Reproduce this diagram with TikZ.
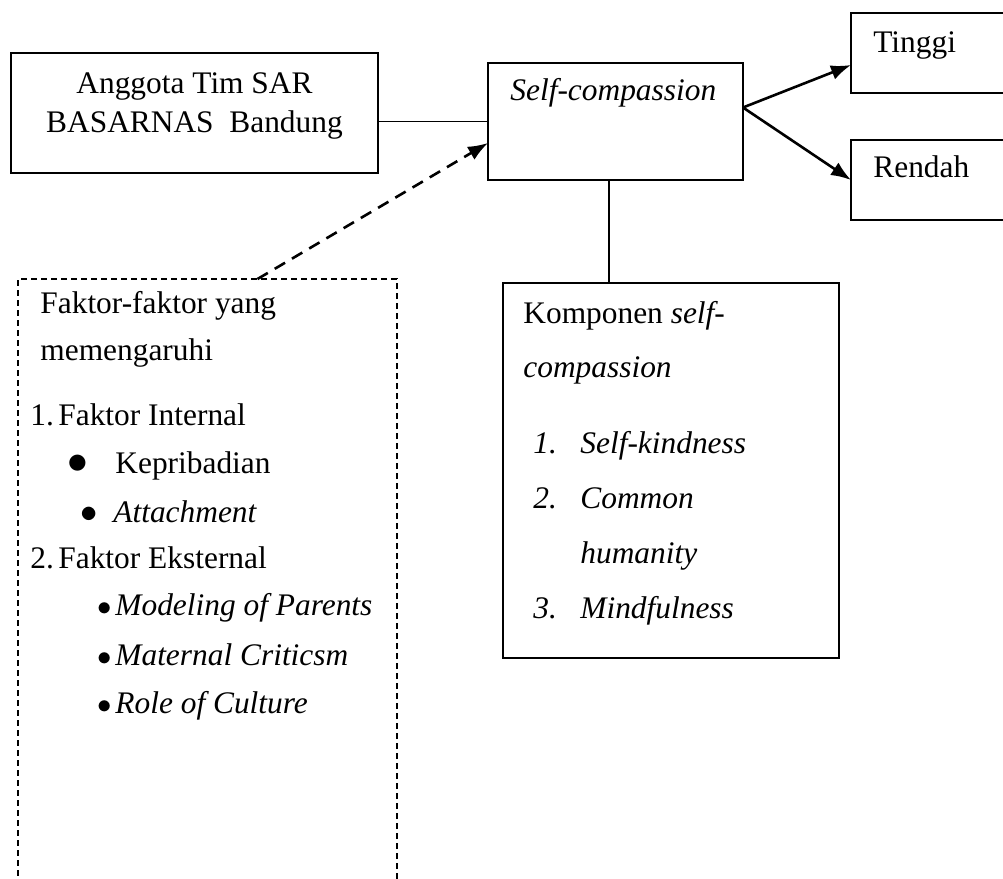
\documentclass[tikz,border=0pt]{standalone}
\usepackage{fontspec}
\setmainfont{Liberation Serif}
\usetikzlibrary{arrows.meta}
\begin{document}
\begin{tikzpicture}[x=0.5pt,y=-0.5pt,font=\fontsize{15.7}{19}\selectfont]

     \tikzstyle{box}=[draw=black,line width=0.9pt,inner sep=0pt,outer sep=0pt]
     \tikzstyle{dbox}=[box,dash pattern=on 3pt off 2pt]
     \tikzstyle{txt}=[anchor=base west,inner sep=0pt]
     \tikzstyle{arr}=[line width=1.3pt,-{Latex[length=10pt,width=7.5pt]}]

     \clip (0,0) rectangle (1003,879);

      \begin{scope}
         \node[box,minimum width=183.5pt,minimum height=60pt] (anggota) at (194.5,113) {};
         \node[box,minimum width=127.5pt,minimum height=58.5pt] (self) at (615.5,121.5) {};
         \node[box,minimum width=79.5pt,minimum height=40pt] (tinggi) at (930.5,53) {};
         \node[box,minimum width=79.5pt,minimum height=40pt] (rendah) at (930.5,180) {};
         \node[box,minimum width=168pt,minimum height=187.5pt] (komponen) at (671,470.5) {};
         \node[dbox,minimum width=189.5pt,minimum height=305.5pt] (faktor) at (207.5,584.5) {};

         \node[anchor=base,inner sep=0pt] (a1) at (194.5,93) {Anggota Tim SAR};
         \node[anchor=base,inner sep=0pt] (a2) at (194.5,132) {BASARNAS~ Bandung};

         \node[txt] (s1) at (510,100) {\textit{Self-compassion}};
         \node[txt] (t1) at (873,52) {Tinggi};
         \node[txt] (r1) at (873,177) {Rendah};

         \node[txt] (k1) at (523,323) {Komponen \textit{self-}};
         \node[txt] (k2) at (523,377) {\textit{compassion}};
         \node[txt] (kn1) at (533,453) {\textit{1.}};
         \node[txt] (kn2) at (533,508) {\textit{2.}};
         \node[txt] (kn3) at (533,618) {\textit{3.}};
         \node[txt] (k3) at (580,453) {\textit{Self-kindness}};
         \node[txt] (k4) at (580,508) {\textit{Common}};
         \node[txt] (k5) at (580,563) {\textit{humanity}};
         \node[txt] (k6) at (580,618) {\textit{Mindfulness}};

         \node[txt] (f1) at (40,313) {Faktor-faktor yang};
         \node[txt] (f2) at (40,360) {memengaruhi};
         \node[txt] (fn1) at (30,425) {1.};
         \node[txt] (f3) at (58,425) {Faktor Internal};
         \node[txt] (fb1) at (67,473) {\fontsize{21}{21}\selectfont$\bullet$};
         \node[txt] (f4) at (115,473) {Kepribadian};
         \node[txt] (fb2) at (80,522) {\fontsize{19}{19}\selectfont$\bullet$};
         \node[txt] (f5) at (113,522) {\textit{Attachment}};
         \node[txt] (fn2) at (30,568) {2.};
         \node[txt] (f6) at (58,568) {Faktor Eksternal};
         \node[txt] (fb3) at (97,615) {$\bullet$};
         \node[txt] (f7) at (115,615) {\textit{Modeling of Parents}};
         \node[txt] (fb4) at (97,665) {$\bullet$};
         \node[txt] (f8) at (115,665) {\textit{Maternal Criticsm}};
         \node[txt] (fb5) at (97,713) {$\bullet$};
         \node[txt] (f9) at (115,713) {\textit{Role of Culture}};

         \coordinate (fork) at ([yshift=7pt]self.east);

         \draw[line width=0.9pt] (self.west -| anggota.east) -- (self.west);
         \draw[arr] (fork) -- ([yshift=-6pt]tinggi.west);
         \draw[arr] (fork) -- (rendah.west);
         \draw[line width=0.9pt] ([xshift=-3.25pt]self.south) -- ([xshift=-3.25pt]self.south |- komponen.north);
         \draw[arr,dash pattern=on 6pt off 4pt] ([xshift=25pt]faktor.north) -- ([yshift=-10.75pt]self.west);

      \end{scope}
\end{tikzpicture}
\end{document}
